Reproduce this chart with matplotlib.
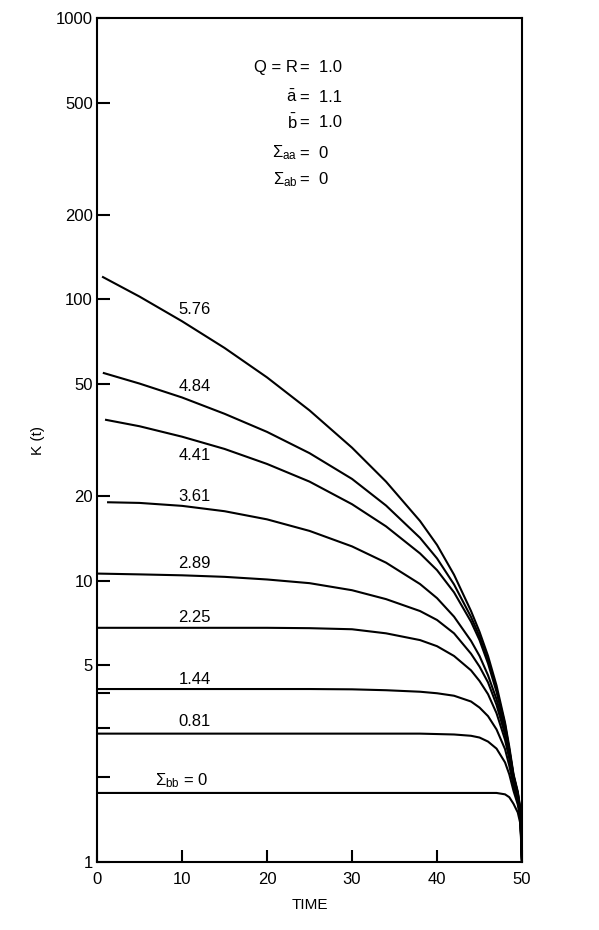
import matplotlib
matplotlib.use("Agg")
import matplotlib.pyplot as plt
from matplotlib.ticker import NullLocator

plt.rcParams["font.family"] = ["Liberation Sans", "DejaVu Sans"]
plt.rcParams["mathtext.default"] = "regular"

# 共通の時間グリッド (曲線の始点は別)
t_grid = [5, 10, 15, 20, 25, 30, 34, 38, 40, 42, 44, 45, 46, 47, 48, 48.5, 49, 49.5, 49.8, 50]

sigma_bb = ["5.76", "4.84", "4.41", "3.61", "2.89", "2.25", "1.44", "0.81", "0"]
t_start = [0.7, 0.8, 1.06, 1.3, 0, 0, 0, 0, 0]
k_start = [120, 54.7, 37.3, 19.0, 10.6, 6.8, 4.12, 2.86, 1.76]

k_576 = [102.3, 83.6, 67.2, 52.8, 40.3, 29.7, 22.5, 16.3, 13.4, 10.5, 7.8, 6.58, 5.4, 4.24, 3.13, 2.57, 2.05, 1.78, 1.55, 1.0]
k_484 = [50.2, 44.8, 39.2, 33.8, 28.4, 23.0, 18.5, 14.2, 12.0, 9.7, 7.43, 6.34, 5.21, 4.11, 3.08, 2.51, 2.03, 1.76, 1.53, 1.0]
k_441 = [35.4, 32.5, 29.4, 26.0, 22.5, 18.7, 15.6, 12.5, 10.9, 9.09, 7.15, 6.15, 5.08, 4.03, 3.03, 2.5, 2.02, 1.75, 1.52, 1.0]
k_361 = [18.9, 18.45, 17.66, 16.52, 15.03, 13.24, 11.59, 9.73, 8.67, 7.45, 6.11, 5.4, 4.61, 3.79, 2.94, 2.43, 2.0, 1.74, 1.51, 1.0]
k_289 = [10.53, 10.45, 10.32, 10.1, 9.8, 9.25, 8.6, 7.8, 7.25, 6.5, 5.5, 4.95, 4.35, 3.62, 2.84, 2.4, 1.96, 1.71, 1.48, 1.0]
k_225 = [6.8, 6.8, 6.8, 6.8, 6.78, 6.72, 6.5, 6.15, 5.85, 5.4, 4.8, 4.4, 3.95, 3.38, 2.72, 2.33, 1.93, 1.69, 1.47, 1.0]
k_144 = [4.12, 4.12, 4.12, 4.12, 4.12, 4.11, 4.08, 4.03, 3.98, 3.9, 3.72, 3.54, 3.3, 2.96, 2.52, 2.2, 1.87, 1.65, 1.45, 1.0]
k_081 = [2.86, 2.86, 2.86, 2.86, 2.86, 2.86, 2.86, 2.86, 2.85, 2.84, 2.81, 2.77, 2.68, 2.53, 2.26, 2.05, 1.79, 1.6, 1.42, 1.0]
k_000 = [1.76, 1.76, 1.76, 1.76, 1.76, 1.76, 1.76, 1.76, 1.76, 1.76, 1.76, 1.76, 1.76, 1.76, 1.74, 1.7, 1.61, 1.5, 1.37, 1.0]
k_curves = [k_576, k_484, k_441, k_361, k_289, k_225, k_144, k_081, k_000]

# ラベル位置 (データ座標)
label_x = [11.5, 11.5, 11.5, 11.5, 11.5, 11.5, 11.5, 11.5, 10.0]
label_y = [92.4, 49.2, 27.8, 20.0, 11.5, 7.37, 4.47, 3.15, 1.94]

y_ticks = [1, 2, 3, 4, 5, 10, 20, 50, 100, 200, 500, 1000]
y_tick_labels = ["1", "", "", "", "5", "10", "20", "50", "100", "200", "500", "1000"]
x_ticks = [0, 10, 20, 30, 40, 50]

params_left = ["Q = R", r"$\bar{a}$", r"$\bar{b}$", r"$\Sigma_{aa}$", r"$\Sigma_{ab}$"]
params_right = ["=  1.0", "=  1.1", "=  1.0", "=  0", "=  0"]
params_y = [665, 524, 424, 331, 266]

fig = plt.figure(figsize=(5.99, 9.30), dpi=100)
ax = fig.add_axes([0.162, 0.0731, 0.7095, 0.9075])

for ts, ks, kc in zip(t_start, k_start, k_curves):
    ax.plot([ts] + t_grid, [ks] + kc, color="black", linewidth=1.5,
            solid_joinstyle="round")

for name, lx, ly in zip(sigma_bb, label_x, label_y):
    text = name if name != "0" else r"$\Sigma_{bb}$ = 0"
    ax.text(lx, ly, text, ha="center", va="center", fontsize=12)

for left, right, py in zip(params_left, params_right, params_y):
    ax.text(23.6, py, left, ha="right", va="center", fontsize=12)
    ax.text(23.9, py, right, ha="left", va="center", fontsize=12)

ax.set_yscale("log")
ax.set_xlim(0, 50)
ax.set_ylim(1, 1000)
ax.set_yticks(y_ticks, labels=y_tick_labels)
ax.yaxis.set_minor_locator(NullLocator())
ax.set_xticks(x_ticks)
ax.tick_params(axis="both", direction="in", length=9, width=1.5, labelsize=12)
ax.tick_params(axis="y", pad=3)
ax.tick_params(axis="x", pad=7)

for spine in ax.spines.values():
    spine.set_linewidth(1.5)

ax.set_xlabel("TIME", fontsize=11, labelpad=8)
ax.set_ylabel("K (t)", fontsize=11, labelpad=8)

fig.savefig("out.png", dpi=100)
